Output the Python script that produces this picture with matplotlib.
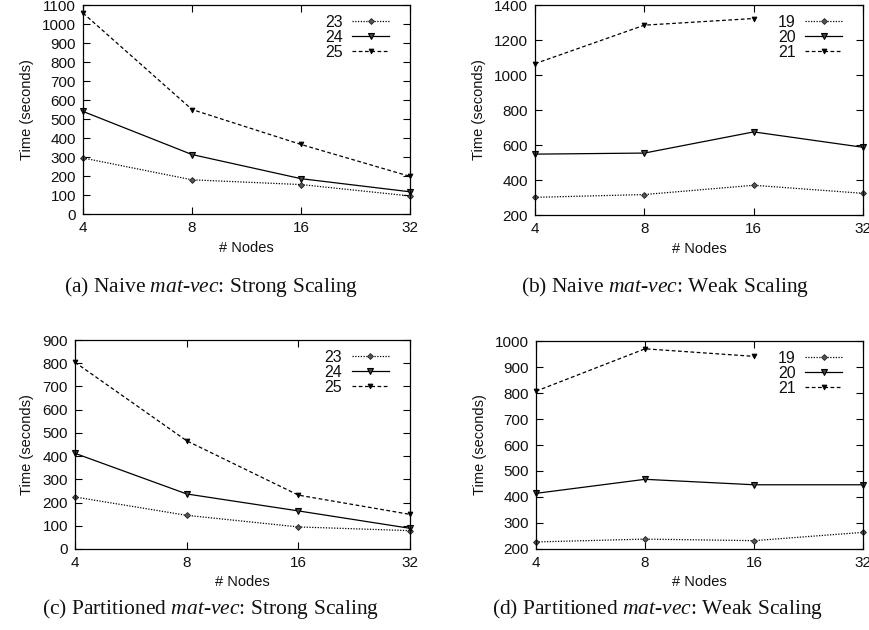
import matplotlib
matplotlib.use("Agg")
import matplotlib.pyplot as plt
from matplotlib.ticker import FixedLocator, NullLocator

plt.rcParams['font.family'] = ['Liberation Sans', 'DejaVu Sans']
plt.rcParams['mathtext.fontset'] = 'custom'
plt.rcParams['mathtext.it'] = 'Liberation Serif:italic'
plt.rcParams['mathtext.rm'] = 'Liberation Serif'

nodes = [4, 8, 16, 32]
node_labels = ['4', '8', '16', '32']

# (a) Naive strong scaling
naive_strong_labels = ['23', '24', '25']
naive_strong_23 = [295, 180, 155, 95]
naive_strong_24 = [540, 313, 186, 117]
naive_strong_25 = [1058, 550, 366, 198]

# (b) Naive weak scaling
naive_weak_labels = ['19', '20', '21']
naive_weak_19 = [301, 317, 370, 324]
naive_weak_20 = [548, 554, 675, 587]
naive_weak_21 = [1065, 1285, 1323, None]

# (c) Partitioned strong scaling
part_strong_labels = ['23', '24', '25']
part_strong_23 = [224, 145, 95, 79]
part_strong_24 = [412, 237, 164, 89]
part_strong_25 = [804, 466, 232, 149]

# (d) Partitioned weak scaling
part_weak_labels = ['19', '20', '21']
part_weak_19 = [227, 238, 232, 264]
part_weak_20 = [414, 468, 447, 447]
part_weak_21 = [807, 970, 941, None]

fig = plt.figure(figsize=(8.7, 6.3), dpi=100)

TXT = '#111111'


def panel(rect, series, labels, ylim, yticks, caption, cap_x, cap_y):
    ax = fig.add_axes(rect)
    styles = [
        dict(ls=(0, (1, 1.2)), marker='D', ms=3.0, mfc='#555555', mec='#222222', mew=0.6),
        dict(ls='-', marker='v', ms=4.8, mfc='#444444', mec='black', mew=0.8),
        dict(ls=(0, (3, 2)), marker='v', ms=3.5, mfc='black', mec='black', mew=0.6),
    ]
    for vals, lab, st in zip(series, labels, styles):
        xs = [n for n, v in zip(nodes, vals) if v is not None]
        ys = [v for v in vals if v is not None]
        ax.plot(xs, ys, color='black', lw=0.9, label=lab, clip_on=False, **st)
    ax.set_xscale('log', base=2)
    ax.set_xlim(4, 32)
    ax.set_ylim(*ylim)
    ax.xaxis.set_major_locator(FixedLocator(nodes))
    ax.xaxis.set_minor_locator(NullLocator())
    ax.set_xticklabels(node_labels)
    ax.set_yticks(yticks)
    ax.tick_params(direction='in', top=True, right=True, length=5, width=0.8,
                   labelsize=11, colors='black', labelcolor=TXT, pad=5)
    for s in ax.spines.values():
        s.set_linewidth(0.9)
    ax.set_ylabel('Time (seconds)', fontsize=10.5, color=TXT, labelpad=6)
    ax.set_xlabel('# Nodes', fontsize=10.5, color=TXT, labelpad=4)
    leg = ax.legend(loc='upper right', frameon=False, markerfirst=False,
                    fontsize=11.5, handlelength=2.3, handletextpad=0.6,
                    labelspacing=0.0, borderaxespad=0.0, bbox_to_anchor=(0.955, 0.985))
    for t in leg.get_texts():
        t.set_color(TXT)
    fig.text(cap_x, cap_y, caption, ha='center', va='center', fontsize=15.5,
             family=['Liberation Serif', 'DejaVu Serif'], color=TXT)
    return ax


panel([0.0954, 0.6603, 0.3759, 0.3317],
      [naive_strong_23, naive_strong_24, naive_strong_25], naive_strong_labels,
      (0, 1100), list(range(0, 1101, 100)),
      '(a) Naive $\\it{mat}$-$\\it{vec}$: Strong Scaling', 0.242, 0.545)
panel([0.615, 0.6587, 0.377, 0.3333],
      [naive_weak_19, naive_weak_20, naive_weak_21], naive_weak_labels,
      (200, 1400), list(range(200, 1401, 200)),
      '(b) Naive $\\it{mat}$-$\\it{vec}$: Weak Scaling', 0.764, 0.545)
panel([0.0862, 0.1286, 0.3851, 0.3317],
      [part_strong_23, part_strong_24, part_strong_25], part_strong_labels,
      (0, 900), list(range(0, 901, 100)),
      '(c) Partitioned $\\it{mat}$-$\\it{vec}$: Strong Scaling', 0.242, 0.033)
panel([0.6161, 0.1286, 0.3759, 0.3301],
      [part_weak_19, part_weak_20, part_weak_21], part_weak_labels,
      (200, 1000), list(range(200, 1001, 100)),
      '(d) Partitioned $\\it{mat}$-$\\it{vec}$: Weak Scaling', 0.756, 0.033)

fig.savefig('out.png', dpi=100)
